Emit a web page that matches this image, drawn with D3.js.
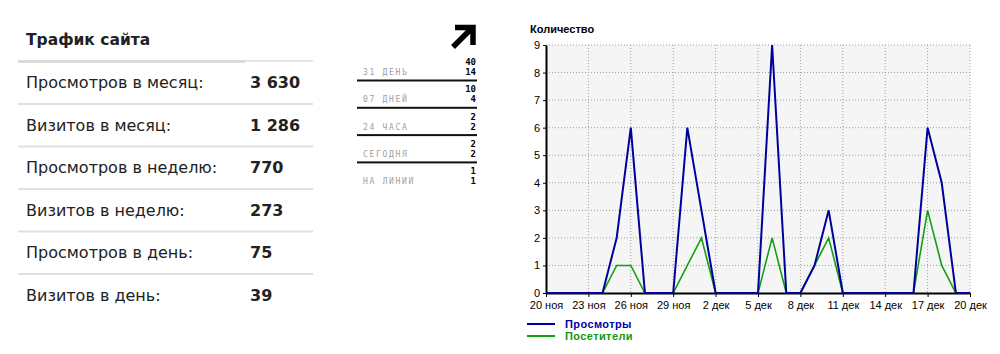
<!DOCTYPE html>
<html>
<head>
<meta charset="utf-8">
<script src="https://cdn.jsdelivr.net/npm/d3@7"></script>
<style>
    body { margin: 0; background: #fff; }
    svg { display: block; }
</style>
</head>
<body>
<div id="chart"></div>
<script>
// Traffic table
const statLabels = ["Просмотров в месяц:", "Визитов в месяц:", "Просмотров в неделю:", "Визитов в неделю:", "Просмотров в день:", "Визитов в день:"];
const statValues = ["3 630", "1 286", "770", "273", "75", "39"];

// Counter widget
const counterLabels = ["31 ДЕНЬ", "07 ДНЕЙ", "24 ЧАСА", "СЕГОДНЯ", "НА ЛИНИИ"];
const counterHits = [40, 10, 2, 2, 1];
const counterHosts = [14, 4, 2, 2, 1];

// Daily chart, 20 ноя .. 20 дек
const startDate = new Date(2023, 10, 20);
const views    = [0,0,0,0,0,2,6,0,0,0,6,3,0,0,0,0,9,0,0,1,3,0,0,0,0,0,0,6,4,0,0];
const visitors = [0,0,0,0,0,1,1,0,0,0,1,2,0,0,0,0,2,0,0,1,2,0,0,0,0,0,0,3,1,0,0];
const monthNames = ["янв","фев","мар","апр","май","июн","июл","авг","сен","окт","ноя","дек"];
const seriesNames = ["Просмотры", "Посетители"];

function draw() {
    const svg = d3.select("#chart")
        .append("svg")
        .attr("width", 1000)
        .attr("height", 354);

    // ---- Left table
    const table = svg.append("g").style("font-family", "'DejaVu Sans', sans-serif");

    table.append("text")
        .attr("x", 26).attr("y", 45)
        .style("font-size", "15.5px").style("font-weight", "bold")
        .attr("fill", "#222")
        .text("Трафик сайта");

    table.append("rect").attr("x", 18).attr("y", 60).attr("width", 227).attr("height", 3).attr("fill", "#dcdcdc");
    table.append("rect").attr("x", 245).attr("y", 60).attr("width", 68).attr("height", 2).attr("fill", "#e6e6e6");

    const rowStep = 42.5;
    statLabels.forEach((label, i) => {
        const base = 88 + i * rowStep;
        table.append("text")
            .attr("x", 26).attr("y", base)
            .style("font-size", "16px")
            .attr("fill", "#222")
            .text(label);
        table.append("text")
            .attr("x", 250).attr("y", base)
            .style("font-size", "16px").style("font-weight", "bold")
            .attr("fill", "#222")
            .text(statValues[i]);
        if (i < statLabels.length - 1) {
            table.append("rect")
                .attr("x", 18).attr("y", base + 15)
                .attr("width", 295).attr("height", 2)
                .attr("fill", "#e0e0e0");
        }
    });

    // ---- Counter widget
    const counter = svg.append("g").style("font-family", "'DejaVu Sans Mono', monospace");

    counter.append("path")
        .attr("d", "M455,27.5 H473 V45 M472.5,27.5 L453,47")
        .attr("fill", "none")
        .attr("stroke", "#000")
        .attr("stroke-width", 5.5);

    const cStep = 27.3;
    counterLabels.forEach((label, i) => {
        const base = 75 + i * cStep;
        counter.append("text")
            .attr("x", 363).attr("y", base)
            .style("font-size", "8px").style("letter-spacing", "1.7px")
            .attr("fill", "#a0a0a0")
            .text(label);
        counter.append("text")
            .attr("x", 476).attr("y", base - 10)
            .attr("text-anchor", "end")
            .style("font-size", "9px").style("font-weight", "bold")
            .attr("fill", "#000")
            .text(counterHits[i]);
        counter.append("text")
            .attr("x", 476).attr("y", base)
            .attr("text-anchor", "end")
            .style("font-size", "9px").style("font-weight", "bold")
            .attr("fill", "#000")
            .text(counterHosts[i]);
        if (i < counterLabels.length - 1) {
            counter.append("rect")
                .attr("x", 357).attr("y", base + 4.5)
                .attr("width", 120).attr("height", 2)
                .attr("fill", "#111");
        }
    });

    // ---- Line chart
    const dates = views.map((d, i) => d3.timeDay.offset(startDate, i));
    const left = 546, right = 970, top = 45, bottom = 293;

    const xScale = d3.scaleTime()
        .domain([dates[0], dates[dates.length - 1]])
        .range([left, right]);

    const yScale = d3.scaleLinear()
        .domain([0, 9])
        .range([bottom, top]);

    const chart = svg.append("g").style("font-family", "'Liberation Sans', Arial, sans-serif");

    chart.append("text")
        .attr("x", 530).attr("y", 33)
        .style("font-size", "11px").style("font-weight", "bold")
        .text("Количество");

    chart.append("rect")
        .attr("x", left).attr("y", top)
        .attr("width", right - left).attr("height", bottom - top)
        .attr("fill", "#f5f5f5");

    const tickDates = d3.range(0, dates.length, 3).map(i => dates[i]);

    chart.append("g")
        .selectAll("line")
        .data(tickDates.slice(1))
        .join("line")
            .attr("x1", d => xScale(d)).attr("x2", d => xScale(d))
            .attr("y1", top).attr("y2", bottom)
            .attr("stroke", "#a0a0a0")
            .attr("stroke-dasharray", "1,2");

    chart.append("g")
        .selectAll("line")
        .data(d3.range(1, 10))
        .join("line")
            .attr("x1", left).attr("x2", right)
            .attr("y1", d => yScale(d)).attr("y2", d => yScale(d))
            .attr("stroke", "#a0a0a0")
            .attr("stroke-dasharray", "1,2");

    const xAxis = d3.axisBottom(xScale)
        .tickValues(tickDates)
        .tickSize(4)
        .tickSizeOuter(0)
        .tickPadding(4)
        .tickFormat(d => `${d.getDate()} ${monthNames[d.getMonth()]}`);

    const xAxisGroup = chart.append("g")
        .attr("transform", `translate(0, ${bottom})`)
        .call(xAxis);

    const yAxis = d3.axisLeft(yScale)
        .ticks(9)
        .tickSize(3)
        .tickSizeOuter(0)
        .tickPadding(3);

    const yAxisGroup = chart.append("g")
        .attr("transform", `translate(${left}, 0)`)
        .call(yAxis);

    [xAxisGroup, yAxisGroup].forEach(g => {
        g.select(".domain").attr("stroke", "#000").attr("stroke-width", 2);
        g.selectAll(".tick line").attr("stroke", "#000");
        g.selectAll(".tick text")
            .attr("fill", "#000")
            .style("font-size", "11px")
            .style("font-family", "'Liberation Sans', Arial, sans-serif");
    });

    const line = d3.line()
        .x((d, i) => xScale(dates[i]))
        .y(d => yScale(d));

    chart.append("path")
        .datum(visitors)
        .attr("fill", "none")
        .attr("stroke", "#11a011")
        .attr("stroke-width", 1.6)
        .attr("d", line);

    chart.append("path")
        .datum(views)
        .attr("fill", "none")
        .attr("stroke", "#00009c")
        .attr("stroke-width", 2)
        .attr("d", line);

    // Legend
    const legendColors = ["#00009c", "#11a011"];
    const legendText = ["#0000a8", "#119911"];
    seriesNames.forEach((name, i) => {
        const ly = 324 + i * 12;
        chart.append("line")
            .attr("x1", 527).attr("x2", 555)
            .attr("y1", ly).attr("y2", ly)
            .attr("stroke", legendColors[i])
            .attr("stroke-width", 2);
        chart.append("text")
            .attr("x", 565).attr("y", ly + 4)
            .style("font-size", "11px").style("font-weight", "bold")
            .style("letter-spacing", "0.4px")
            .attr("fill", legendText[i])
            .text(name);
    });
}

draw();
</script>
</body>
</html>
